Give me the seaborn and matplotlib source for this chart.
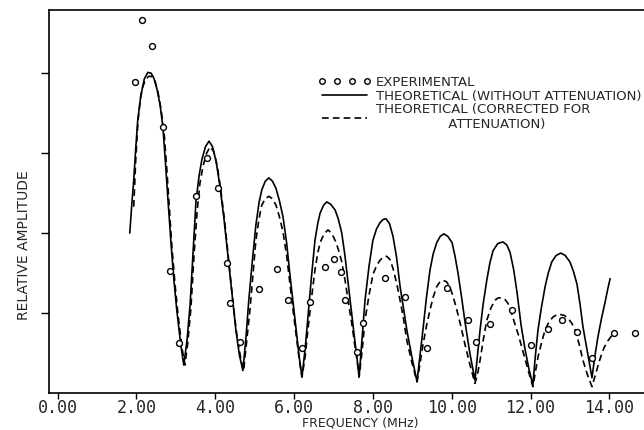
import matplotlib
matplotlib.use("Agg")
import matplotlib.pyplot as plt
from matplotlib.lines import Line2D
from matplotlib.ticker import FormatStrFormatter
import pandas as pd
import seaborn as sns

# theoretical curve, no attenuation
solid_freq = [1.83, 1.88, 1.93, 1.98, 2.03, 2.11, 2.20, 2.29, 2.37, 2.44, 2.52, 2.60, 2.67, 2.74, 2.80, 2.88, 2.95, 3.02, 3.08, 3.14, 3.20,
              3.28, 3.36, 3.44, 3.51, 3.59, 3.66, 3.75, 3.84, 3.93, 4.02, 4.12, 4.22, 4.32, 4.42, 4.52, 4.61, 4.70,
              4.78, 4.85, 4.94, 5.03, 5.11, 5.18, 5.27, 5.36, 5.45, 5.54, 5.63, 5.72, 5.81, 5.89, 5.97, 6.05, 6.13, 6.20,
              6.28, 6.35, 6.44, 6.53, 6.60, 6.66, 6.75, 6.83, 6.93, 7.04, 7.12, 7.21, 7.29, 7.37, 7.46, 7.54, 7.60, 7.65,
              7.72, 7.80, 7.90, 8.00, 8.09, 8.18, 8.26, 8.33, 8.42, 8.51, 8.60, 8.69, 8.78, 8.86, 8.99, 9.12,
              9.19, 9.27, 9.36, 9.45, 9.53, 9.62, 9.71, 9.80, 9.90, 10.01, 10.08, 10.16, 10.25, 10.34, 10.46, 10.59,
              10.65, 10.72, 10.80, 10.89, 10.97, 11.05, 11.17, 11.30, 11.40, 11.48, 11.57, 11.66, 11.76, 11.86, 11.96, 12.06,
              12.12, 12.19, 12.28, 12.37, 12.45, 12.54, 12.65, 12.77, 12.88, 13.00, 13.09, 13.18, 13.26, 13.33, 13.45, 13.56,
              13.63, 13.71, 13.80, 13.89, 13.96, 14.02]
solid_amp = [2.00, 2.35, 2.66, 3.05, 3.40, 3.72, 3.93, 4.01, 4.00, 3.94, 3.80, 3.60, 3.33, 2.85, 2.41, 1.85, 1.41, 1.05, 0.79, 0.55, 0.35,
             0.65, 1.10, 1.80, 2.40, 2.72, 2.92, 3.08, 3.15, 3.08, 2.90, 2.58, 2.18, 1.72, 1.25, 0.80, 0.48, 0.28,
             0.70, 1.16, 1.65, 2.10, 2.38, 2.54, 2.65, 2.69, 2.65, 2.56, 2.40, 2.20, 1.88, 1.50, 1.15, 0.79, 0.45, 0.20,
             0.55, 0.95, 1.45, 1.91, 2.12, 2.25, 2.35, 2.39, 2.36, 2.29, 2.18, 2.00, 1.72, 1.38, 1.00, 0.66, 0.42, 0.20,
             0.65, 1.16, 1.58, 1.91, 2.05, 2.13, 2.17, 2.18, 2.12, 1.96, 1.70, 1.33, 1.05, 0.79, 0.45, 0.14,
             0.45, 0.79, 1.20, 1.54, 1.74, 1.88, 1.96, 1.99, 1.96, 1.88, 1.72, 1.50, 1.20, 0.88, 0.50, 0.16,
             0.45, 0.79, 1.12, 1.41, 1.63, 1.78, 1.87, 1.89, 1.85, 1.76, 1.55, 1.25, 0.85, 0.55, 0.30, 0.10,
             0.45, 0.79, 1.08, 1.33, 1.50, 1.64, 1.72, 1.75, 1.72, 1.64, 1.52, 1.36, 1.10, 0.83, 0.50, 0.19,
             0.45, 0.70, 0.93, 1.13, 1.30, 1.43]

# theoretical curve, corrected for attenuation
dash_freq = [1.93, 1.98, 2.04, 2.10, 2.16, 2.23, 2.31, 2.39, 2.46, 2.54, 2.62, 2.70, 2.77, 2.83, 2.90, 2.98, 3.05, 3.11, 3.17, 3.23,
             3.30, 3.38, 3.46, 3.54, 3.61, 3.69, 3.78, 3.87, 3.96, 4.05, 4.14, 4.24, 4.34, 4.44, 4.54, 4.64, 4.72,
             4.79, 4.88, 4.96, 5.03, 5.11, 5.18, 5.27, 5.36, 5.45, 5.54, 5.63, 5.72, 5.81, 5.89, 5.97, 6.05, 6.13, 6.20,
             6.28, 6.35, 6.44, 6.53, 6.60, 6.66, 6.76, 6.86, 6.95, 7.04, 7.12, 7.21, 7.29, 7.37, 7.46, 7.54, 7.60, 7.65,
             7.72, 7.80, 7.90, 8.00, 8.09, 8.18, 8.26, 8.35, 8.43, 8.51, 8.60, 8.69, 8.78, 8.86, 8.99, 9.12,
             9.19, 9.27, 9.36, 9.45, 9.53, 9.62, 9.70, 9.78, 9.87, 9.95, 10.04, 10.13, 10.23, 10.34, 10.46, 10.59,
             10.65, 10.72, 10.80, 10.89, 11.00, 11.10, 11.18, 11.27, 11.35, 11.43, 11.51, 11.60, 11.69, 11.78, 11.92, 12.06,
             12.12, 12.19, 12.28, 12.37, 12.47, 12.57, 12.67, 12.77, 12.86, 12.96, 13.05, 13.14, 13.24, 13.33, 13.45, 13.56,
             13.66, 13.76, 13.86, 13.96, 14.05, 14.14]
dash_amp = [2.33, 2.90, 3.41, 3.68, 3.83, 3.92, 3.96, 3.96, 3.92, 3.78, 3.56, 3.26, 2.80, 2.35, 1.82, 1.35, 1.00, 0.75, 0.52, 0.35,
            0.62, 1.05, 1.72, 2.28, 2.62, 2.84, 3.00, 3.08, 3.02, 2.84, 2.54, 2.14, 1.66, 1.18, 0.75, 0.45, 0.28,
            0.62, 1.04, 1.50, 1.91, 2.18, 2.35, 2.43, 2.46, 2.43, 2.35, 2.20, 2.01, 1.72, 1.38, 1.05, 0.73, 0.42, 0.20,
            0.45, 0.79, 1.18, 1.54, 1.75, 1.88, 1.99, 2.04, 2.00, 1.91, 1.80, 1.64, 1.42, 1.16, 0.88, 0.60, 0.40, 0.20,
            0.50, 0.91, 1.22, 1.48, 1.59, 1.66, 1.70, 1.71, 1.67, 1.56, 1.38, 1.16, 0.92, 0.66, 0.38, 0.14,
            0.35, 0.60, 0.84, 1.04, 1.20, 1.33, 1.39, 1.41, 1.39, 1.33, 1.20, 1.04, 0.84, 0.60, 0.36, 0.12,
            0.22, 0.41, 0.66, 0.91, 1.07, 1.16, 1.19, 1.19, 1.17, 1.12, 1.01, 0.87, 0.73, 0.57, 0.32, 0.08,
            0.25, 0.45, 0.63, 0.79, 0.89, 0.95, 0.98, 0.98, 0.97, 0.93, 0.87, 0.78, 0.60, 0.41, 0.22, 0.08,
            0.25, 0.42, 0.56, 0.65, 0.71, 0.75]

# measured points
exp_freq = [2.14, 2.39, 1.96, 2.67, 2.85, 3.08, 3.51, 3.79, 4.07, 4.30, 4.37, 4.63,
            5.11, 5.56, 5.84, 6.20, 6.40, 6.78, 7.01, 7.19, 7.29, 7.59, 7.75,
            8.30, 8.81, 9.37, 9.88, 10.41, 10.61, 10.97, 11.53, 12.01, 12.44,
            12.80, 13.18, 13.56, 14.12, 14.65]
exp_amp = [4.66, 4.34, 3.89, 3.33, 1.53, 0.63, 2.46, 2.94, 2.56, 1.63, 1.13, 0.64,
           1.30, 1.55, 1.16, 0.56, 1.14, 1.58, 1.68, 1.51, 1.16, 0.51, 0.88,
           1.44, 1.20, 0.56, 1.31, 0.91, 0.64, 0.86, 1.04, 0.60, 0.80,
           0.91, 0.76, 0.44, 0.75, 0.75]

x_ticks = [0, 2, 4, 6, 8, 10, 12, 14]
y_ticks = [1, 2, 3, 4]

sns.set_theme(style="ticks")
plt.rcParams["font.family"] = ["DejaVu Sans"]

solid = pd.DataFrame({"freq": solid_freq, "amp": solid_amp})
dashed = pd.DataFrame({"freq": dash_freq, "amp": dash_amp})
exp = pd.DataFrame({"freq": exp_freq, "amp": exp_amp})

fig = plt.figure(figsize=(6.44, 4.30), dpi=100)
ax = fig.add_axes([49 / 644, 37 / 430, 595 / 644, 383 / 430])

sns.lineplot(data=solid, x="freq", y="amp", color="black", lw=1.2, ax=ax)
sns.lineplot(data=dashed, x="freq", y="amp", color="black", lw=1.2, ax=ax)
ax.lines[-1].set_dashes([4, 2.5])
sns.scatterplot(data=exp, x="freq", y="amp", marker="o", s=18,
                facecolor="white", edgecolor="black", linewidth=1.0, zorder=5, ax=ax)

ax.set_xlim(-0.22, 14.88)
ax.set_ylim(0, 4.79)
ax.set_xticks(x_ticks)
ax.xaxis.set_major_formatter(FormatStrFormatter("%.2f"))
ax.set_yticks(y_ticks)
ax.set_yticklabels([])
ax.tick_params(axis="x", length=4, width=1, pad=0.5, labelsize=12, color="black")
ax.tick_params(axis="y", length=6, width=1, color="black")
for lab in ax.get_xticklabels():
    lab.set_family("DejaVu Sans Mono")

for side in ["left", "top", "bottom"]:
    ax.spines[side].set_visible(True)
    ax.spines[side].set_color("black")
    ax.spines[side].set_linewidth(1.2)
ax.spines["right"].set_visible(False)

ax.set_xlabel("FREQUENCY (MHz)", fontsize=9)
ax.xaxis.set_label_coords(0.523, -0.062)
ax.set_ylabel("RELATIVE AMPLITUDE", fontsize=10)
ax.yaxis.set_label_coords(-0.03, 0.386)

handles = [
    Line2D([], [], marker="o", ls="none", mfc="white", mec="black", ms=4, mew=1.0),
    Line2D([], [], color="black", lw=1.2),
    Line2D([], [], color="black", lw=1.2, dashes=[4, 2.5]),
]
labels = [
    "EXPERIMENTAL",
    "THEORETICAL (WITHOUT ATTENUATION)",
    "THEORETICAL (CORRECTED FOR\n                 ATTENUATION)",
]
ax.legend(handles, labels, loc="upper left", bbox_to_anchor=(0.452, 0.828),
          frameon=False, numpoints=4, fontsize=9.5, handlelength=4.0,
          handletextpad=0.4, labelspacing=0.05, borderpad=0, borderaxespad=0)

fig.savefig("out.png", dpi=100)
